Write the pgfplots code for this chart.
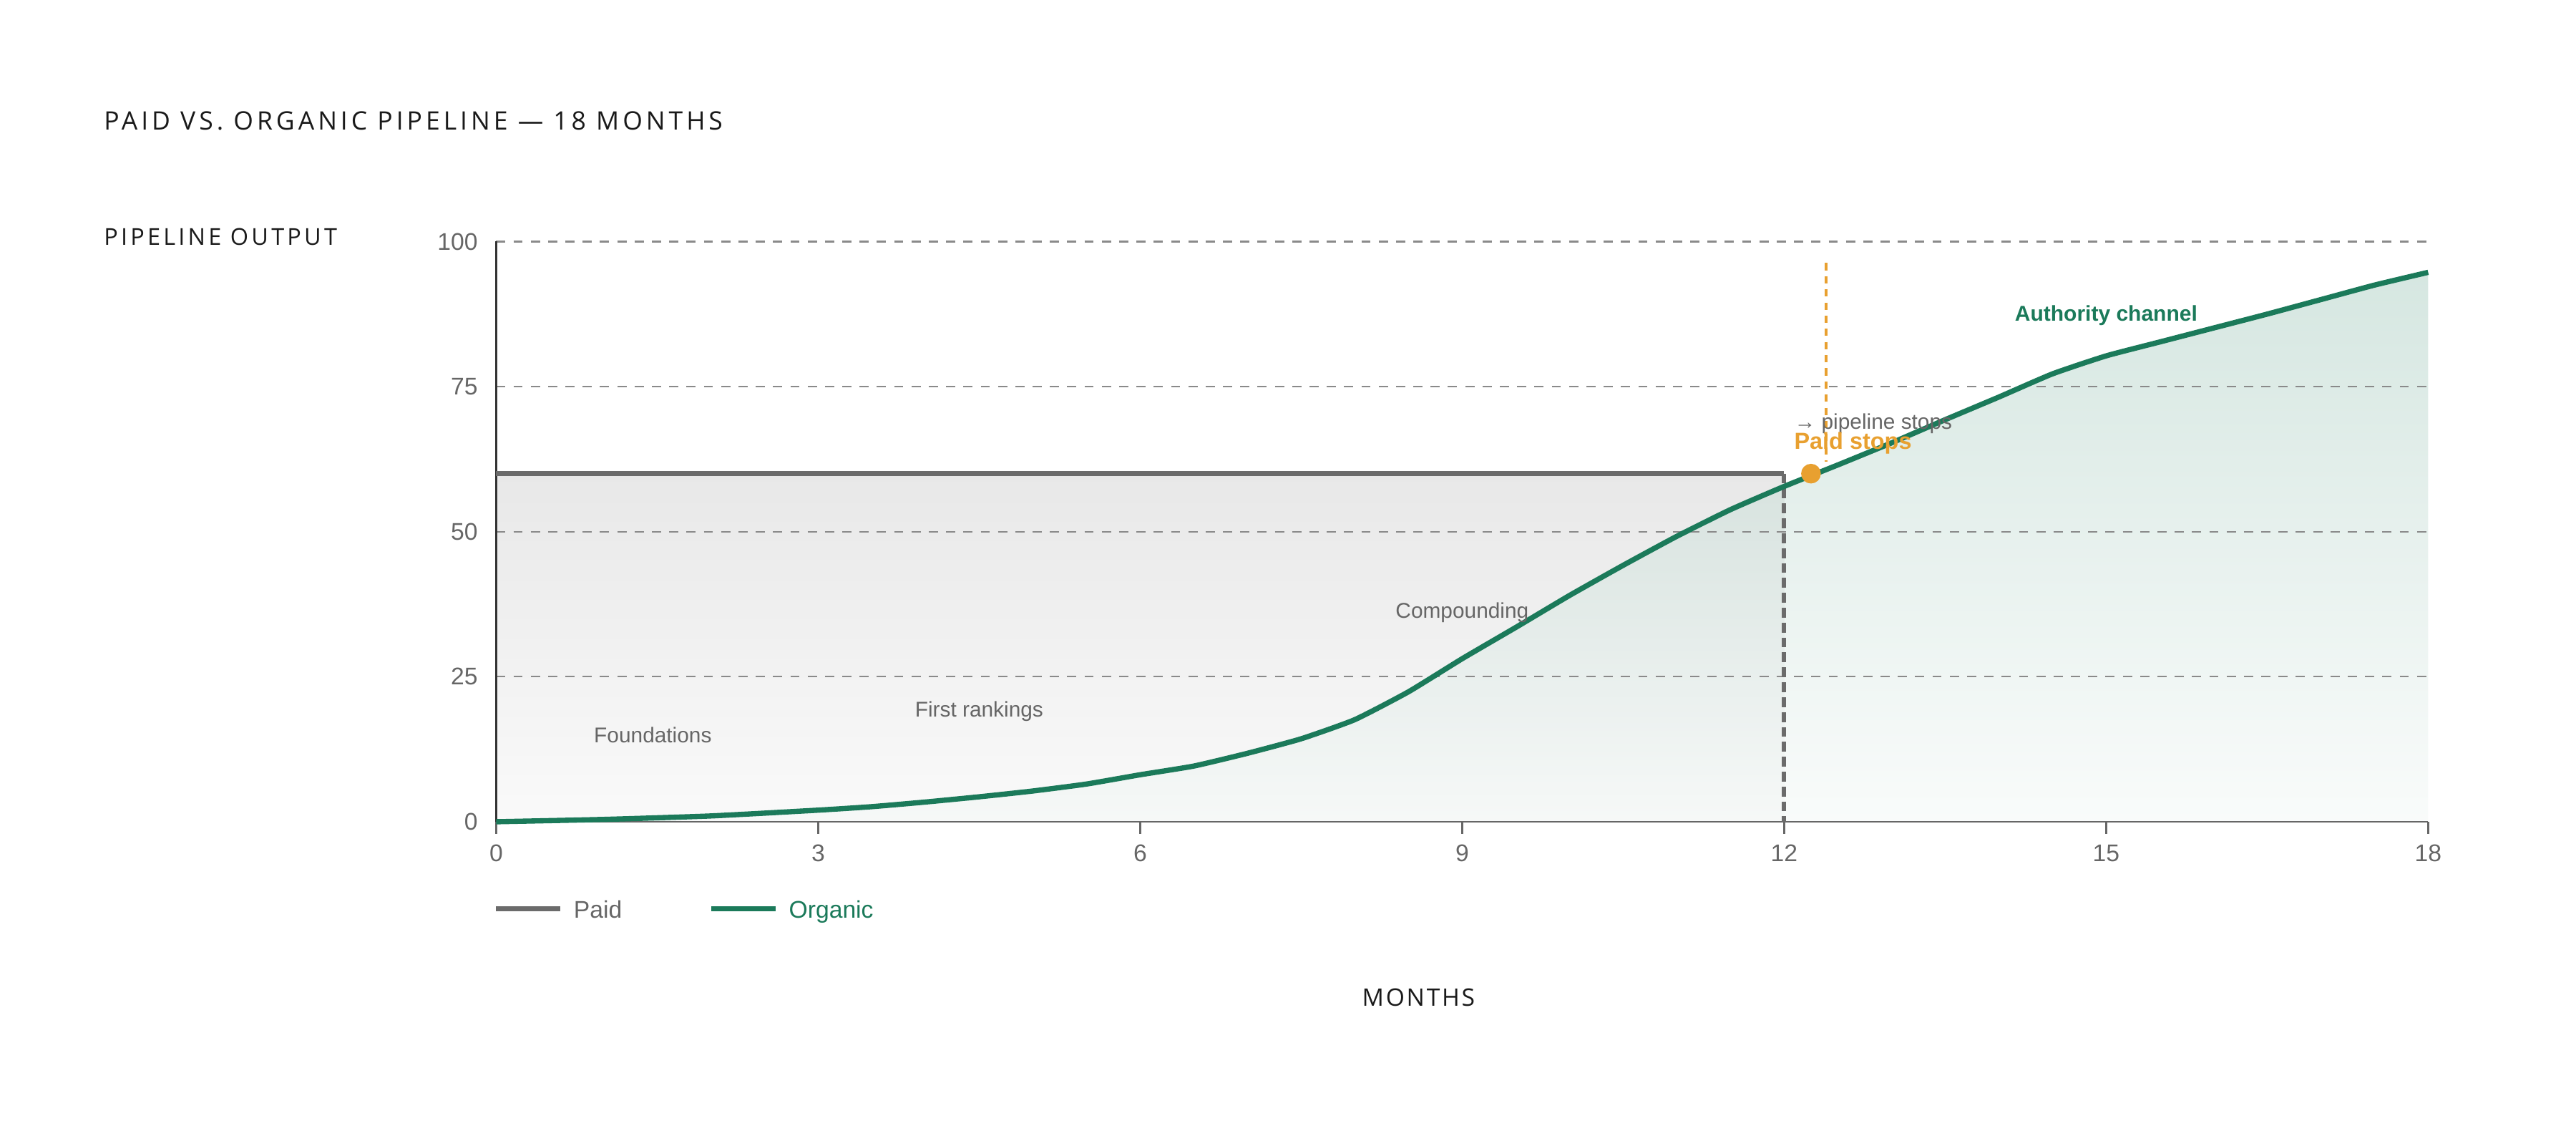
\documentclass[border=0pt]{standalone}
\usepackage{fontspec}
\setmainfont{Liberation Sans}
\newfontfamily\titlefont[LetterSpace=14]{Open Sans}
\newfontfamily\ylabfont[LetterSpace=13]{Open Sans}
\newfontfamily\xlabfont[LetterSpace=8]{Open Sans}
\usepackage{pgfplots}
\usepackage{pgfplotstable}
\pgfplotsset{compat=1.18}
\definecolor{paid}{HTML}{6B6B6B}
\definecolor{organic}{HTML}{1B7A5A}
\definecolor{stopc}{HTML}{E8A030}
\definecolor{tickc}{HTML}{666666}
\definecolor{gridc}{HTML}{8A8A8A}
\definecolor{ink}{HTML}{1A1A1A}

\pgfplotstableread{
x y
0 0
1 0.4
2 1.0
3 2.0
3.5 2.6
4 3.4
4.5 4.3
5 5.3
5.5 6.5
6 8.1
6.5 9.6
7 11.8
7.5 14.3
8 17.6
8.5 22.4
9 28.1
9.5 33.5
10 39.0
10.5 44.2
11 49.2
11.5 53.8
12 57.8
12.5 61.5
13 65.3
13.5 69.3
14 73.2
14.5 77.2
15 80.3
15.5 82.7
16 85.1
16.5 87.5
17 90.0
17.5 92.5
18 94.7
}\organicdata

\pgfplotstableread{
x y
0 60
12 60
}\paiddata

\begin{document}
\begin{tikzpicture}
\node[anchor=base west, inner sep=0pt, text=ink, font=\titlefont\fontsize{11.6}{14}\selectfont] at (47.25pt,452.25pt) {PAID VS.\ ORGANIC PIPELINE — 18 MONTHS};
\node[anchor=base west, inner sep=0pt, text=ink, font=\ylabfont\fontsize{10.6}{13}\selectfont] at (47.25pt,399.5pt) {PIPELINE OUTPUT};
\node[anchor=base, inner sep=0pt, text=ink, font=\xlabfont\fontsize{11}{13}\selectfont] at (647.6pt,52.35pt) {MONTHS};

\begin{axis}[
  name=ax,
  at={(226.5pt,136.5pt)}, anchor=south west,
  scale only axis, width=882pt, height=264.75pt,
  xmin=0, xmax=18, ymin=0, ymax=100,
  set layers=standard,
  clip=false,
  /pgf/number format/assume math mode=true,
  axis lines*=left,
  x axis line style={draw=tickc, line width=0.8pt},
  y axis line style={draw=black!80, line width=1.1pt},
  xtick={0,3,...,18}, ytick={0,25,...,100},
  tick align=outside,
  xtick style={draw=tickc, line width=0.8pt},
  ytick style={draw=none},
  major tick length=5.5pt,
  ymajorgrids,
  grid style={draw=gridc, line width=0.7pt, dash pattern=on 4.2pt off 3.7pt},
  tick label style={text=tickc, font=\fontsize{11}{13}\selectfont},
  yticklabel style={anchor=east, inner sep=0pt, xshift=-2.75pt},
  xticklabel style={anchor=north, inner sep=0pt, yshift=-4.8pt},
]
% fills
\addplot[on layer=axis background, draw=none, top color=black!9, bottom color=black!2] table {\paiddata} \closedcycle;
\addplot[on layer=axis background, draw=none, top color=organic!36!white, bottom color=organic!5!white, fill opacity=0.5] table {\organicdata} \closedcycle;
% paid
\addplot[draw=paid, line width=2.4pt] table {\paiddata};
\addplot[draw=paid, line width=1.9pt, dash pattern=on 4.5pt off 2.3pt] coordinates {(12,60) (12,0)};
% organic
\addplot[draw=organic, line width=2.4pt, smooth, tension=0.3] table {\organicdata};
% paid stops marker
\addplot[draw=stopc, line width=1.4pt, dash pattern=on 3.3pt off 2.7pt] coordinates {(12.39,96.3) (12.39,62)};
\addplot[only marks, mark=*, mark size=4.3pt, color=stopc] coordinates {(12.25,60)};
% annotations
\node[text=tickc, font=\fontsize{9.75}{12}\selectfont] at (axis cs:1.46,15.0) {Foundations};
\node[text=tickc, font=\fontsize{9.75}{12}\selectfont] at (axis cs:4.5,19.0) {First rankings};
\node[text=tickc, font=\fontsize{9.75}{12}\selectfont] at (axis cs:9.0,36.0) {Compounding};
\node[text=organic, font=\bfseries\fontsize{9.8}{12}\selectfont] at (axis cs:15.0,87.3) {Authority channel};
\node[anchor=west, inner sep=0pt, text=tickc, font=\fontsize{9.75}{12}\selectfont] at (axis cs:12.09,68.6) {→ pipeline stops};
\node[anchor=west, inner sep=0pt, text=stopc, font=\bfseries\fontsize{10.6}{12}\selectfont] at (axis cs:12.09,65.2) {Paid stops};
\end{axis}
% legend
\draw[draw=paid, line width=2.2pt] ([yshift=-39.75pt]ax.south west) -- ++(29.25pt,0);
\node[anchor=base west, inner sep=0pt, text=tickc, font=\fontsize{11}{13}\selectfont] at ([xshift=35.25pt,yshift=-43.8pt]ax.south west) {Paid};
\draw[draw=organic, line width=2.2pt] ([xshift=98.25pt,yshift=-39.75pt]ax.south west) -- ++(29.25pt,0);
\node[anchor=base west, inner sep=0pt, text=organic, font=\fontsize{11}{13}\selectfont] at ([xshift=133.5pt,yshift=-43.8pt]ax.south west) {Organic};
\pgfresetboundingbox
\path[use as bounding box] (0pt,0pt) rectangle (1176pt,511.5pt);
\end{tikzpicture}
\end{document}
